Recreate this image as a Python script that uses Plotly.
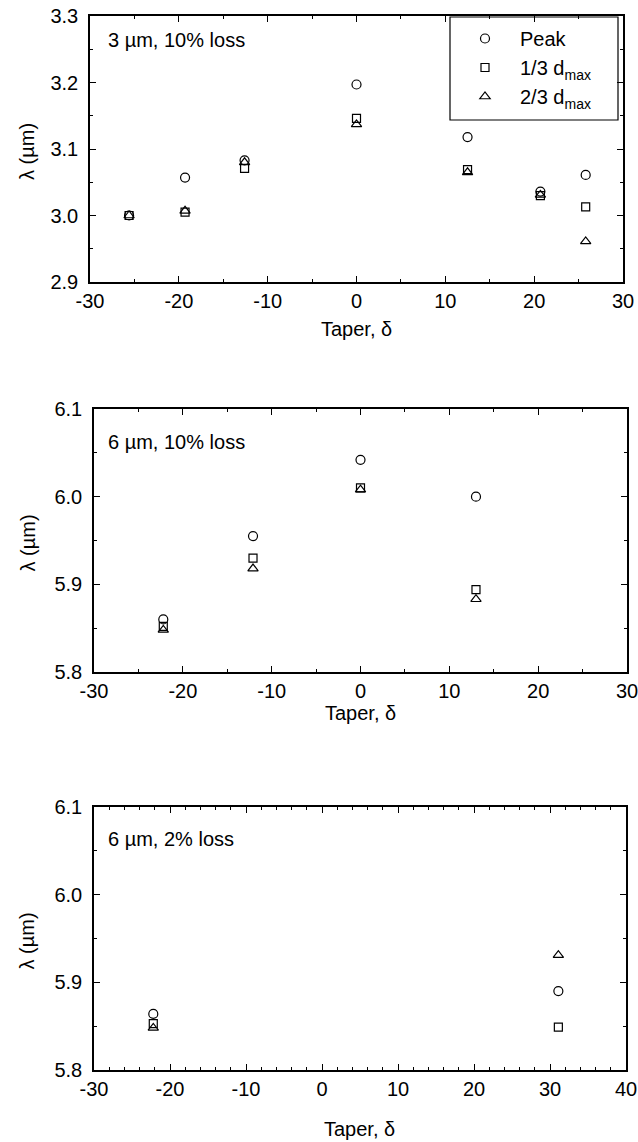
import plotly.graph_objects as go

# Taper values and resonance wavelengths (um) for each configuration
taper_3um_10 = [-25.6, -19.3, -12.6, 0.0, 12.5, 20.7, 25.8]
peak_3um_10 = [3.000, 3.057, 3.083, 3.197, 3.118, 3.036, 3.061]
third_3um_10 = [3.000, 3.005, 3.071, 3.146, 3.069, 3.030, 3.013]
twothird_3um_10 = [3.000, 3.007, 3.080, 3.137, 3.065, 3.031, 2.961]

taper_6um_10 = [-22.2, -12.1, 0.0, 13.0]
peak_6um_10 = [5.860, 5.955, 6.042, 6.000]
third_6um_10 = [5.852, 5.930, 6.010, 5.894]
twothird_6um_10 = [5.848, 5.918, 6.008, 5.883]

taper_6um_2 = [-22.2, 31.1]
peak_6um_2 = [5.864, 5.890]
third_6um_2 = [5.853, 5.849]
twothird_6um_2 = [5.848, 5.931]

# tick values and their labels (plain hyphen as minus sign)
x_ticks_30 = [-30, -20, -10, 0, 10, 20, 30]
x_ticks_40 = [-30, -20, -10, 0, 10, 20, 30, 40]
y_ticks_3 = [2.9, 3.0, 3.1, 3.2, 3.3]
y_ticks_6 = [5.8, 5.9, 6.0, 6.1]

series_names = ["Peak", "1/3 d<sub>max</sub>", "2/3 d<sub>max</sub>"]
symbols = ["circle-open", "square-open", "triangle-up-open"]
sizes = [9, 8, 9]
panel_labels = ["3 \u00b5m, 10% loss", "6 \u00b5m, 10% loss", "6 \u00b5m, 2% loss"]

panels = [
    (taper_3um_10, [peak_3um_10, third_3um_10, twothird_3um_10]),
    (taper_6um_10, [peak_6um_10, third_6um_10, twothird_6um_10]),
    (taper_6um_2, [peak_6um_2, third_6um_2, twothird_6um_2]),
]

W, H = 638, 1142
FONT = "Liberation Sans, Arial, Helvetica, sans-serif"

# pixel boxes of the three plot frames: (left, right, top, bottom)
boxes = [(90, 623, 16, 282), (94, 627, 409, 672), (94, 626, 807, 1070)]
xticks = [x_ticks_30, x_ticks_30, x_ticks_40]
yticks = [y_ticks_3, y_ticks_6, y_ticks_6]
xminor = [5, 5, 2]
xtitle_y = [329, 713, 1129]
label_y = [40, 442, 839]
legend_box = (450, 618, 17, 120)

fig = go.Figure()

for i, (taper, ys) in enumerate(panels):
    suffix = "" if i == 0 else str(i + 1)
    for j, vals in enumerate(ys):
        fig.add_trace(go.Scatter(
            x=taper, y=vals, mode="markers",
            name=series_names[j],
            showlegend=(i == 0),
            marker=dict(symbol=symbols[j], size=sizes[j], color="black",
                        line=dict(color="black", width=1.2)),
            xaxis="x" + suffix, yaxis="y" + suffix,
        ))


def axis_style(vals, labels, minor_dtick):
    return dict(
        range=[vals[0], vals[-1]],
        tickmode="array", tickvals=vals, ticktext=labels,
        showline=True, linecolor="black", linewidth=1.5, mirror="ticks",
        ticks="inside", ticklen=6, tickwidth=1.2, tickcolor="black",
        showgrid=False, zeroline=False, automargin=False,
        ticklabeloverflow="allow",
        tickfont=dict(family=FONT, size=20, color="black"),
        minor=dict(ticks="inside", ticklen=3, tickwidth=1, tickcolor="black",
                   dtick=minor_dtick, tick0=vals[0], showgrid=False),
    )


lb_l, lb_r, lb_t, lb_b = legend_box
layout = dict(
    template="none",
    width=W, height=H,
    margin=dict(l=0, r=0, t=0, b=0, pad=0),
    paper_bgcolor="white", plot_bgcolor="white",
    font=dict(family=FONT, size=20, color="black"),
    showlegend=True,
    legend=dict(
        x=lb_l / W, xanchor="left", y=1 - (lb_t + 2) / H, yanchor="top",
        borderwidth=0, bgcolor="rgba(0,0,0,0)",
        font=dict(family=FONT, size=20, color="black"),
        tracegroupgap=0, itemwidth=60, indentation=0,
    ),
    shapes=[dict(
        type="rect", xref="paper", yref="paper",
        x0=lb_l / W, x1=lb_r / W, y0=1 - lb_b / H, y1=1 - lb_t / H,
        line=dict(color="black", width=1.2), fillcolor="white", layer="below",
    )],
)

annotations = []
for i in range(3):
    suffix = "" if i == 0 else str(i + 1)
    l, r, t, b = boxes[i]
    xa = axis_style(xticks[i], [str(v) for v in xticks[i]], xminor[i])
    xa["domain"] = [l / W, r / W]
    xa["anchor"] = "y" + suffix
    ya = axis_style(yticks[i], [f"{v:.1f}" for v in yticks[i]], 0.05)
    ya["domain"] = [1 - b / H, 1 - t / H]
    ya["anchor"] = "x" + suffix
    ya["ticklabelstandoff"] = 6
    layout["xaxis" + suffix] = xa
    layout["yaxis" + suffix] = ya

    annotations.append(dict(
        text="Taper, \u03b4", xref="paper", yref="paper",
        x=((l + r) / 2) / W, y=1 - xtitle_y[i] / H,
        xanchor="center", yanchor="middle", showarrow=False,
        font=dict(family=FONT, size=20, color="black"),
    ))
    annotations.append(dict(
        text="\u03bb (\u00b5m)", xref="paper", yref="paper",
        x=27 / W, y=1 - ((t + b) / 2 + 3) / H, textangle=-90,
        xanchor="center", yanchor="middle", showarrow=False,
        font=dict(family=FONT, size=20, color="black"),
    ))
    annotations.append(dict(
        text=panel_labels[i], xref="paper", yref="paper",
        x=106 / W, y=1 - label_y[i] / H,
        xanchor="left", yanchor="middle", showarrow=False,
        font=dict(family=FONT, size=20, color="black"),
    ))

layout["annotations"] = annotations
fig.update_layout(**layout)

fig.write_html("out.html")
